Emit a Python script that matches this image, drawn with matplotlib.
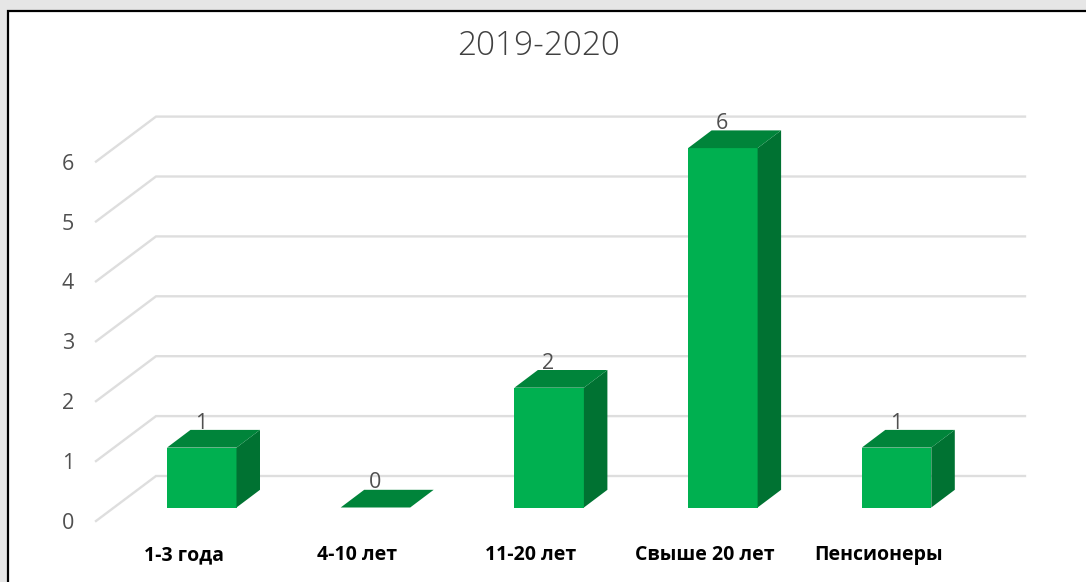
'''
2019-2020 3D-style bar chart
'''

import matplotlib.pyplot as plt
from matplotlib.patches import Polygon, Rectangle


categories = ['1-3 года', '4-10 лет', '11-20 лет', 'Свыше 20 лет', 'Пенсионеры']
values = [1, 0, 2, 6, 1]
y_ticks = [0, 1, 2, 3, 4, 5, 6]

# pixel geometry of the fake 3D box
X0 = 96
Y0 = 521
UNIT = 59.9
DX = 60
DY = 45
SLOT = 173.7
BAR_W = 69.5
FIRST_BAR = 167
BASE = 507.5
BOX_DX = 23.5
BOX_DY = 17.7

FRONT = '#00b050'
TOP = '#00843a'
SIDE = '#007232'
GRID = '#dedede'
TEXT = '#505050'


def main():
    plt.rcParams['font.family'] = ['Open Sans', 'DejaVu Sans']

    fig = plt.figure(figsize=(10.86, 5.82), dpi=100)
    ax = fig.add_axes([0, 0, 1, 1])
    ax.set_xlim(0, 1086)
    ax.set_ylim(582, 0)
    ax.axis('off')

    # page background and frame
    fig.patch.set_facecolor('#e6e6e6')
    ax.add_patch(Rectangle((8, 11), 1090, 580, fc='white', ec='black', lw=1.6))

    ax.text(539, 42, '2019-2020', ha='center', va='center_baseline', fontsize=24,
            color='#404040', fontweight='light')

    # back wall gridlines and the slanted floor/wall joins
    for t in y_ticks:
        y = Y0 - t * UNIT
        ax.plot([X0, X0 + DX, 1025], [y, y - DY, y - DY], color=GRID, lw=1.7,
                solid_joinstyle='miter')
        ax.text(68, y, str(t), ha='center', va='center_baseline', fontsize=15.5, color=TEXT)

    for i, (name, v) in enumerate(zip(categories, values)):
        left = FIRST_BAR + i * SLOT
        right = left + BAR_W
        top = BASE - v * UNIT

        if v > 0:
            ax.add_patch(Rectangle((left, top), BAR_W, BASE - top, fc=FRONT, ec='none', zorder=3))
            ax.add_patch(Polygon([(right, top), (right + BOX_DX, top - BOX_DY),
                                  (right + BOX_DX, BASE - BOX_DY), (right, BASE)],
                                 fc=SIDE, ec='none', zorder=3))
        ax.add_patch(Polygon([(left, top), (left + BOX_DX, top - BOX_DY),
                              (right + BOX_DX, top - BOX_DY), (right, top)],
                             fc=TOP, ec='none', zorder=3))

        ax.text(left + 34, top - 27, str(v), ha='center', va='center_baseline',
                fontsize=15.5, color=TEXT, zorder=4)
        ax.text(left + 16.5, 552.5, name, ha='center', va='center_baseline',
                fontsize=14, fontweight='bold', color='black')

    fig.savefig('out.png', dpi=100, facecolor=fig.get_facecolor())


if __name__ == '__main__':
    main()
